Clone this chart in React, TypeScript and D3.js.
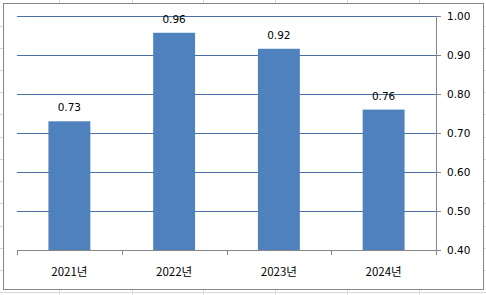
import React from "react";
import * as d3 from "d3";

const categories = ["2021년", "2022년", "2023년", "2024년"];
const values = [0.73, 0.957, 0.916, 0.76];
const yTicks = [0.4, 0.5, 0.6, 0.7, 0.8, 0.9, 1.0];
const sheetCols = [59.5, 132.5, 203.5, 275.5, 347.5, 419.5];
const sheetRows = [26, 48, 70, 92, 114, 137, 159, 181, 203, 226, 248, 270, 292];

const W = 486;
const H = 295;

export default function App() {
  const x = d3
    .scaleBand<string>()
    .domain(categories)
    .range([17, 436])
    .paddingInner(0.6)
    .paddingOuter(0.3);
  const y = d3.scaleLinear().domain([0.4, 1.0]).range([250, 16]);
  const step = x.step();
  const boundaries = d3.range(categories.length + 1).map((i) => 17 + i * step);

  return (
    <svg
      width={W}
      height={H}
      style={{ position: "absolute", left: 0, top: 0, background: "#fff" }}
    >
      {sheetCols.map((c, i) => (
        <line key={"c" + i} x1={c} x2={c} y1={0} y2={H} stroke="#d8d8d8" />
      ))}
      {sheetRows.map((r, i) => (
        <line key={"r" + i} x1={0} x2={W} y1={r + 0.5} y2={r + 0.5} stroke="#d8d8d8" />
      ))}
      <rect x={3.5} y={3.5} width={480} height={286} fill="#fff" stroke="#868686" />
      {yTicks
        .filter((t) => t > 0.4)
        .map((t, i) => (
          <line
            key={"g" + i}
            x1={17}
            x2={436}
            y1={Math.round(y(t)) + 0.5}
            y2={Math.round(y(t)) + 0.5}
            stroke="#4a6fa5"
          />
        ))}
      {values.map((v, i) => (
        <rect
          key={"b" + i}
          x={x(categories[i])}
          y={y(v)}
          width={x.bandwidth()}
          height={y(0.4) - y(v)}
          fill="#4f81bd"
        />
      ))}
      {values.map((v, i) => (
        <text
          key={"l" + i}
          x={(x(categories[i]) as number) + x.bandwidth() / 2}
          y={y(v) - 10}
          textAnchor="middle"
          fontFamily="DejaVu Sans"
          fontSize={10.5}
          fill="#000"
        >
          {v.toFixed(2)}
        </text>
      ))}
      <line x1={17} x2={436} y1={250.5} y2={250.5} stroke="#868686" />
      {boundaries.map((b, i) => (
        <line
          key={"xt" + i}
          x1={Math.round(b) + 0.5}
          x2={Math.round(b) + 0.5}
          y1={250}
          y2={255}
          stroke="#868686"
        />
      ))}
      <line x1={436.5} x2={436.5} y1={16} y2={250} stroke="#868686" />
      {yTicks.map((t, i) => (
        <g key={"yt" + i}>
          <line
            x1={436}
            x2={441}
            y1={Math.round(y(t)) + 0.5}
            y2={Math.round(y(t)) + 0.5}
            stroke="#868686"
          />
          <text
            x={447}
            y={y(t)}
            dominantBaseline="central"
            fontFamily="DejaVu Sans"
            fontSize={10.5}
            fill="#000"
          >
            {t.toFixed(2)}
          </text>
        </g>
      ))}
      {categories.map((c, i) => (
        <text
          key={"xl" + i}
          x={(x(c) as number) + x.bandwidth() / 2}
          y={276}
          textAnchor="middle"
          fontFamily="'Noto Sans CJK KR'"
          fontSize={11.5}
          fill="#000"
        >
          {c}
        </text>
      ))}
    </svg>
  );
}
